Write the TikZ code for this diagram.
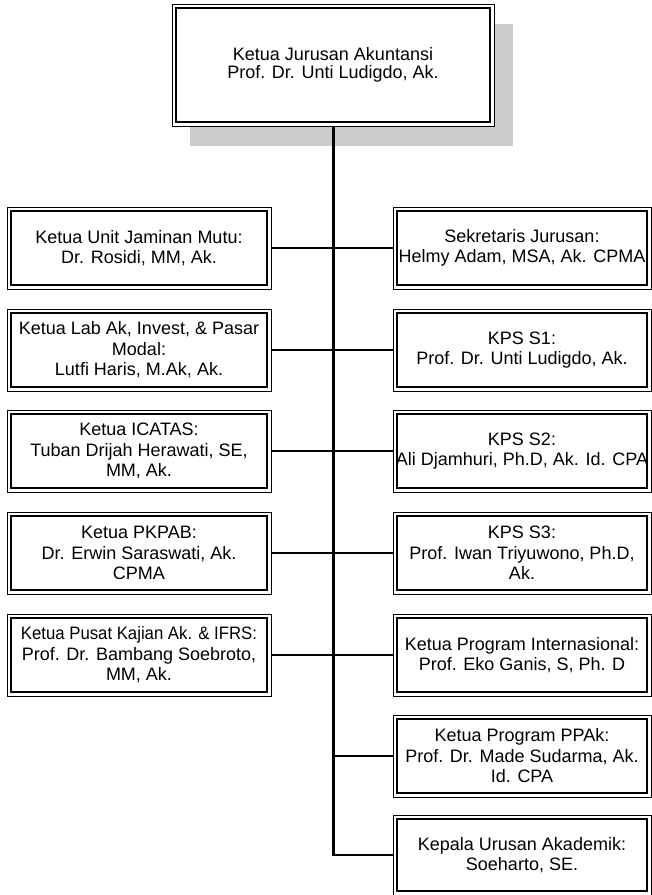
\documentclass[tikz,border=0pt]{standalone}
\usepackage{fontspec}
\setmainfont{Liberation Sans}
\definecolor{shadowgray}{RGB}{204,204,204}
\newcommand\innerbox[1]{\draw[line width=1.8pt] ([xshift=4pt,yshift=-4pt]#1.north west) rectangle ([xshift=-4pt,yshift=4pt]#1.south east);}
\begin{document}
\begin{tikzpicture}[x=1pt,y=-1pt,
  obox/.style={draw=black, line width=0.9pt, fill=white, align=center, inner sep=0pt, outer sep=0pt,
    font=\fontsize{18}{20.5}\selectfont},
  lbox/.style={obox, minimum width=264pt, minimum height=82pt},
  rbox/.style={obox, minimum width=258pt, minimum height=82pt},
  link/.style={draw=black, line width=1.8pt},
  trunk/.style={draw=black, line width=3pt}]
\useasboundingbox (0,0) rectangle (652,895);
% shadow of the top box
\fill[shadowgray] (190,24) rectangle (513,146);
% top box
\node[obox, minimum width=322pt, minimum height=122pt, font=\fontsize{18}{18.5}\selectfont] (top) at (333,65)
  {Ketua Jurusan Akuntansi\\Prof. Dr. Unti Ludigdo, Ak.};
\innerbox{top}
% left column
\node[lbox] (L1) at (139,248) {Ketua Unit Jaminan Mutu:\\Dr. Rosidi, MM, Ak.};
\node[lbox] (L2) at (139,350) {Ketua Lab Ak, Invest, \& Pasar\\Modal:\\Lutfi Haris, M.Ak, Ak.};
\node[lbox] (L3) at (139,451) {Ketua ICATAS:\\Tuban Drijah Herawati, SE,\\MM, Ak.};
\node[lbox] (L4) at (139,553) {Ketua PKPAB:\\Dr. Erwin Saraswati, Ak.\\CPMA};
\node[lbox] (L5) at (139,655) {\scalebox{0.93}[1]{Ketua Pusat Kajian Ak. \& IFRS:}\\Prof. Dr. Bambang Soebroto,\\MM, Ak.};
% right column
\node[rbox] (R1) at (522,248) {Sekretaris Jurusan:\\Helmy Adam, MSA, Ak. CPMA};
\node[rbox] (R2) at (522,350) {KPS S1:\\Prof. Dr. Unti Ludigdo, Ak.};
\node[rbox] (R3) at (522,451) {KPS S2:\\Ali Djamhuri, Ph.D, Ak. Id. CPA};
\node[rbox] (R4) at (522,553) {KPS S3:\\Prof. Iwan Triyuwono, Ph.D,\\Ak.};
\node[rbox] (R5) at (522,655) {Ketua Program Internasional:\\Prof. Eko Ganis, S, Ph. D};
\node[rbox] (R6) at (522,756) {Ketua Program PPAk:\\Prof. Dr. Made Sudarma, Ak.\\Id. CPA};
\node[rbox, minimum height=80pt] (R7) at (522,855) {Kepala Urusan Akademik:\\Soeharto, SE.};
\foreach \n in {L1,L2,L3,L4,L5,R1,R2,R3,R4,R5,R6,R7}{\innerbox{\n}}
% connectors
\coordinate (tb) at (top.south |- R7.west);
\draw[trunk] (top.south) -- ([yshift=-0.9pt]tb);
\foreach \i in {1,...,5}{\draw[link] (L\i.east) -- (R\i.west);}
\draw[link] (R6.west) -- (R6.west -| top.south);
\draw[link] ([xshift=-1.5pt]tb) -- (R7.west);
\end{tikzpicture}
\end{document}
